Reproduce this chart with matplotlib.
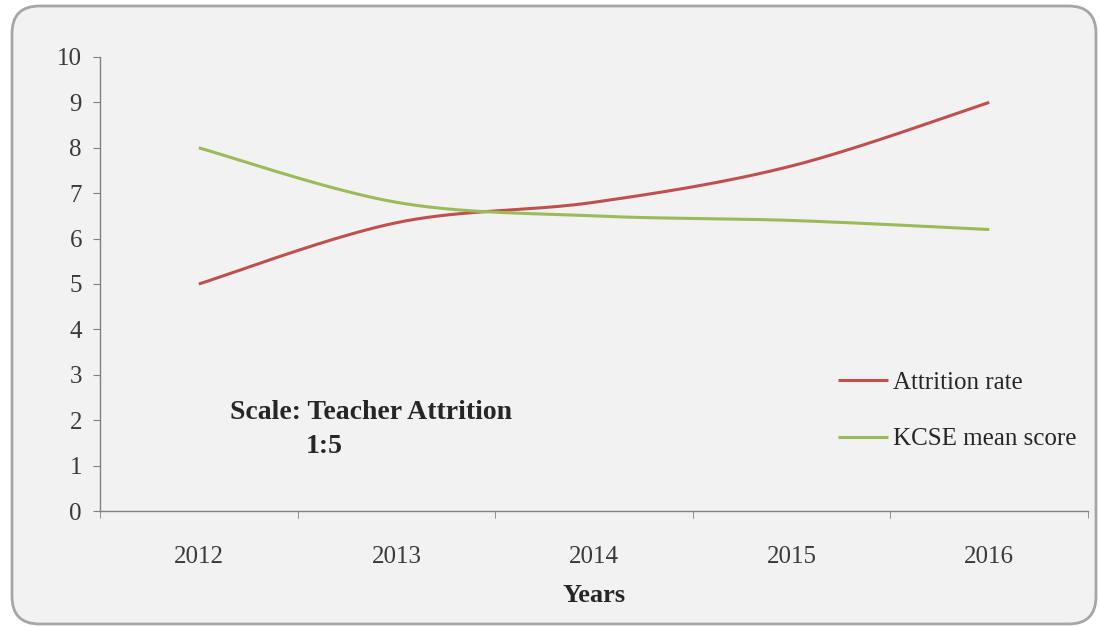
import numpy as np
import matplotlib
matplotlib.use("Agg")
import matplotlib.pyplot as plt
from matplotlib.patches import FancyBboxPatch

years = ["2012", "2013", "2014", "2015", "2016"]
attrition = [5.0, 6.35, 6.8, 7.6, 9.0]
kcse = [8.0, 6.8, 6.5, 6.4, 6.2]
yticks = list(range(0, 11))

def smooth(x, y, n=40):
    # Excel-like smoothed line (Catmull-Rom bezier)
    x = np.asarray(x, float); y = np.asarray(y, float)
    px = np.concatenate([[x[0]], x, [x[-1]]])
    py = np.concatenate([[y[0]], y, [y[-1]]])
    xs, ys = [], []
    t = np.linspace(0, 1, n)
    for i in range(1, len(px) - 2):
        p0 = np.array([px[i], py[i]]); p3 = np.array([px[i+1], py[i+1]])
        p1 = p0 + (p3 - np.array([px[i-1], py[i-1]])) / 6
        p2 = p3 - (np.array([px[i+2], py[i+2]]) - p0) / 6
        b = ((1-t)**3)[:, None]*p0 + (3*(1-t)**2*t)[:, None]*p1 + (3*(1-t)*t**2)[:, None]*p2 + (t**3)[:, None]*p3
        xs.extend(b[:, 0]); ys.extend(b[:, 1])
    return np.array(xs), np.array(ys)

plt.rcParams['font.family'] = ['Liberation Serif', 'DejaVu Serif']

fig = plt.figure(figsize=(10.99, 6.27), dpi=100)
fig.patch.set_facecolor('white')
box = FancyBboxPatch((12/1099, 3/627), 1084/1099, 618/627,
                     boxstyle="round,pad=0,rounding_size=0.025",
                     transform=fig.transFigure, facecolor='#F2F2F2',
                     edgecolor='#A6A6A6', linewidth=2, mutation_aspect=1099/627,
                     zorder=-5)
fig.patches.append(box)

ax = fig.add_axes([100/1099, (627-511)/627, 988/1099, 454/627])
ax.set_zorder(1)
ax.patch.set_visible(False)
xi = np.arange(len(years))
sx, sy = smooth(xi, attrition)
ax.plot(sx, sy, color='#C0504D', lw=2.2, label='Attrition rate', solid_capstyle='butt')
sx, sy = smooth(xi, kcse)
ax.plot(sx, sy, color='#9BBB59', lw=2.2, label='KCSE mean score', solid_capstyle='butt')

ax.set_xlim(-0.5, len(years) - 0.5)
ax.set_ylim(0, 10)
ax.set_yticks(yticks)
ax.set_yticklabels([str(v) for v in yticks], fontsize=18, color='#3A3A3A')
ax.set_xticks(xi)
ax.set_xticklabels(years, fontsize=18, color='#3A3A3A')
ax.set_xticks(np.arange(-0.5, len(years) + 0.5, 1), minor=True)
ax.tick_params(axis='x', which='major', length=0, pad=25)
ax.tick_params(axis='x', which='minor', length=5, direction='out', color='#808080')
ax.tick_params(axis='y', length=5, direction='out', color='#808080', pad=8)
for s in ['top', 'right']:
    ax.spines[s].set_visible(False)
for s in ['left', 'bottom']:
    ax.spines[s].set_color('#808080')
    ax.spines[s].set_linewidth(1)
ax.set_xlabel('Years', fontsize=19, fontweight='bold', color='#262626', labelpad=12)

ax.text(0.1316, 0.218, 'Scale: Teacher Attrition', transform=ax.transAxes,
        fontsize=20, fontweight='bold', color='#262626', va='center')
ax.text(0.2085, 0.143, '1:5', transform=ax.transAxes,
        fontsize=20, fontweight='bold', color='#262626', va='center')

leg = ax.legend(loc='upper left', bbox_to_anchor=(0.747, 0.307), frameon=False,
                fontsize=18, handlelength=2.0, handletextpad=0.2, labelspacing=1.35,
                borderpad=0, borderaxespad=0)
for t in leg.get_texts():
    t.set_color('#262626')

fig.savefig('out.png', dpi=100, facecolor='white')
